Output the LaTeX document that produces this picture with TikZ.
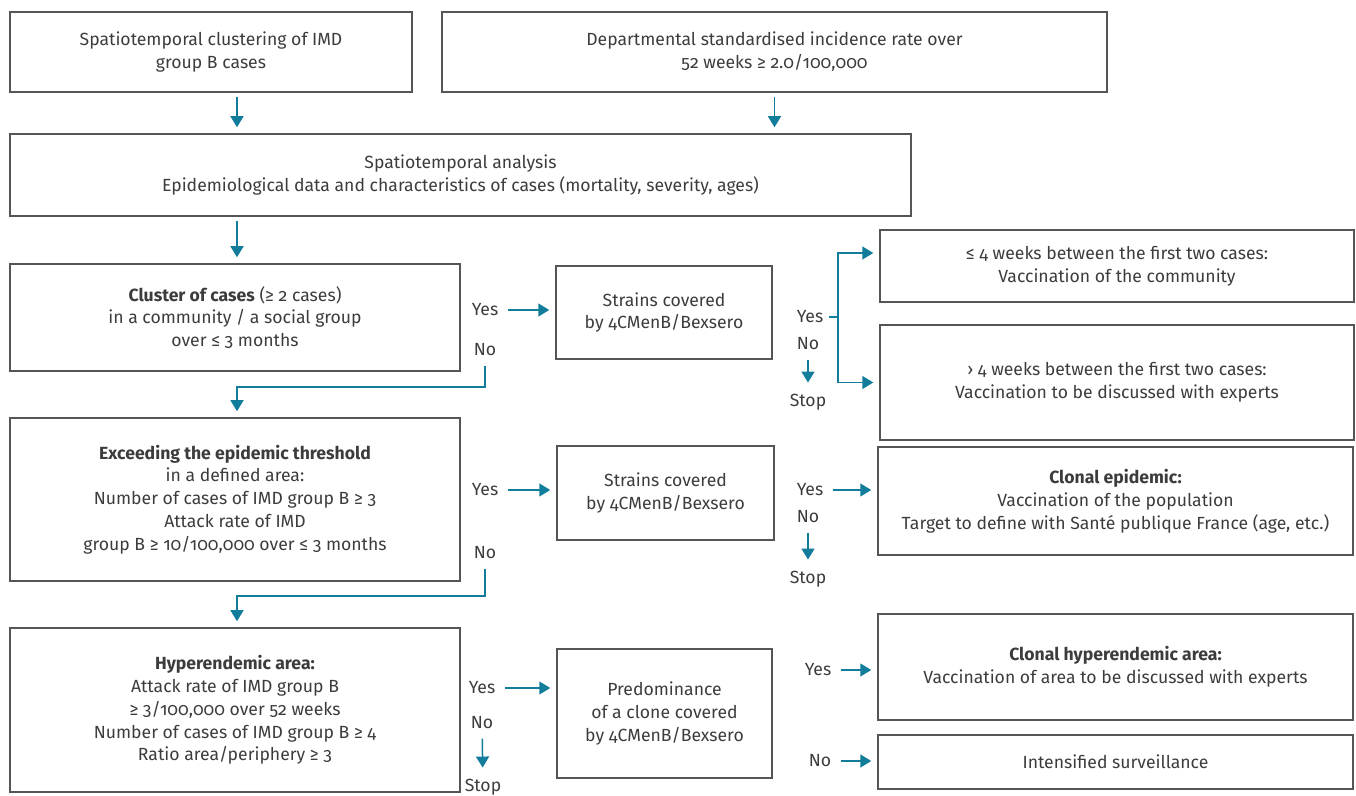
\documentclass[tikz,border=0pt]{standalone}
\usepackage{fontspec}
\setmainfont{Fira Sans}[Numbers=OldStyle]
\usepackage{tikz}
\usetikzlibrary{arrows.meta}
\definecolor{boxgray}{RGB}{85,85,85}
\definecolor{txtgray}{RGB}{60,60,60}
\definecolor{flowblue}{RGB}{18,124,155}
\tikzset{
    box/.style={draw=boxgray, line width=0.75pt, inner sep=2pt, align=center, text=txtgray},
    lbl/.style={inner sep=2.5pt, text=txtgray},
    ln/.style={draw=flowblue, line width=0.75pt},
    arr/.style={color=flowblue, line width=0.75pt, -{Triangle[length=5.5pt,width=6.5pt]}, shorten <=2pt, shorten >=3pt}
}

\begin{document}
\begin{tikzpicture}[x=0.5pt, y=-0.5pt, font=\fontsize{8.8pt}{11.4pt}\selectfont]
        \useasboundingbox (0,0) rectangle (1356,796);
        \node[box, minimum width=201pt, minimum height=40pt] (clust) at (211,52) {Spatiotemporal clustering of IMD\\group B cases};
        \node[box, minimum width=332.5pt, minimum height=40pt] (rate) at (774.5,52) {Departmental standardised incidence rate over\\52 weeks ≥ 2.0/100,000};
        \node[box, minimum width=450.5pt, minimum height=41pt] (anal) at (460.5,175) {Spatiotemporal analysis\\Epidemiological data and characteristics of cases (mortality, severity, ages)};
        \node[box, minimum width=225pt, minimum height=53.5pt] (clus) at (235,317.5) {\textbf{Cluster of cases} (≥ 2 cases)\\in a community / a social group\\over ≤ 3 months};
        \node[box, minimum width=108pt, minimum height=46.5pt] (cov1) at (664,312.5) {Strains covered\\by 4CMenB/Bexsero};
        \node[box, minimum width=237pt, minimum height=36pt] (vacc1) at (1117,266) {≤ 4 weeks between the first two cases:\\Vaccination of the community};
        \node[box, minimum width=237pt, minimum height=57.5pt] (vacc2) at (1117,382.5) {› 4 weeks between the first two cases:\\Vaccination to be discussed with experts};
        \node[box, minimum width=225pt, minimum height=81.5pt] (thr) at (235,499.5) {\textbf{Exceeding the epidemic threshold}\\in a defined area:\\Number of cases of IMD group B ≥ 3\\Attack rate of IMD\\group B ≥ 10/100,000 over ≤ 3 months};
        \node[box, minimum width=108.5pt, minimum height=47pt] (cov2) at (665.5,493) {Strains covered\\by 4CMenB/Bexsero};
        \node[box, minimum width=237.5pt, minimum height=54pt] (epi) at (1115.5,501) {\textbf{Clonal epidemic:}\\Vaccination of the population\\Target to define with Santé publique France (age, etc.)};
        \node[box, minimum width=225pt, minimum height=82pt] (hyp) at (235,710) {\textbf{Hyperendemic area:}\\Attack rate of IMD group B\\≥ 3/100,000 over 52 weeks\\Number of cases of IMD group B ≥ 4\\Ratio area/periphery ≥ 3};
        \node[box, minimum width=107.5pt, minimum height=64.5pt] (pred) at (664.5,713.5) {Predominance\\of a clone covered\\by 4CMenB/Bexsero};
        \node[box, minimum width=237.5pt, minimum height=53pt] (hypv) at (1115.5,667) {\textbf{Clonal hyperendemic area:}\\Vaccination of area to be discussed with experts};
        \node[box, minimum width=237.5pt, minimum height=27pt] (surv) at (1115.5,762) {Intensified surveillance};

        \node[lbl] (yes1) at (485,310) {Yes};
        \node[lbl] (no1) at (485,350) {No};
        \node[lbl] (yes2) at (810,317) {Yes};
        \node[lbl] (no2) at (808,344) {No};
        \node[lbl] (stop2) at (808,402) {Stop};
        \node[lbl] (yes3) at (485,490) {Yes};
        \node[lbl] (no3) at (485,553) {No};
        \node[lbl] (yes4) at (810,490) {Yes};
        \node[lbl] (no4) at (808,517) {No};
        \node[lbl] (stop4) at (808,579) {Stop};
        \node[lbl] (yes5) at (482,688) {Yes};
        \node[lbl] (no5) at (482,723) {No};
        \node[lbl] (stop5) at (483,787) {Stop};
        \node[lbl] (yes6) at (818,670) {Yes};
        \node[lbl] (no6) at (820,761) {No};

        \coordinate (j1) at (237,387);
        \coordinate (j3) at (237,596);
        \coordinate (br) at (838,317);

        \path[arr]
        (clust.south -| j1) edge (anal.north -| j1)
        (rate) edge (rate |- anal.north)
        (anal.south -| j1) edge (clus.north -| j1)
        (yes1) edge (cov1.west |- yes1)
        (no2) edge (stop2)
        (yes3) edge (cov2.west |- yes3)
        (yes4) edge (epi.west |- yes4)
        (no4) edge (stop4)
        (yes5) edge (pred.west |- yes5)
        (no5) edge (stop5)
        (yes6) edge (hypv.west |- yes6)
        (no6) edge (surv.west |- no6)
        ;
        \draw[arr] (no1) |- (j1) -- (thr.north -| j1);
        \draw[arr] (no3) |- (j3) -- (hyp.north -| j3);
        \draw[ln] (yes2) -- (br);
        \draw[arr, shorten <=0pt] (br) |- ([yshift=6.5pt]vacc1.west);
        \draw[arr, shorten <=0pt] (br) |- (vacc2.west);
\end{tikzpicture}
\end{document}
